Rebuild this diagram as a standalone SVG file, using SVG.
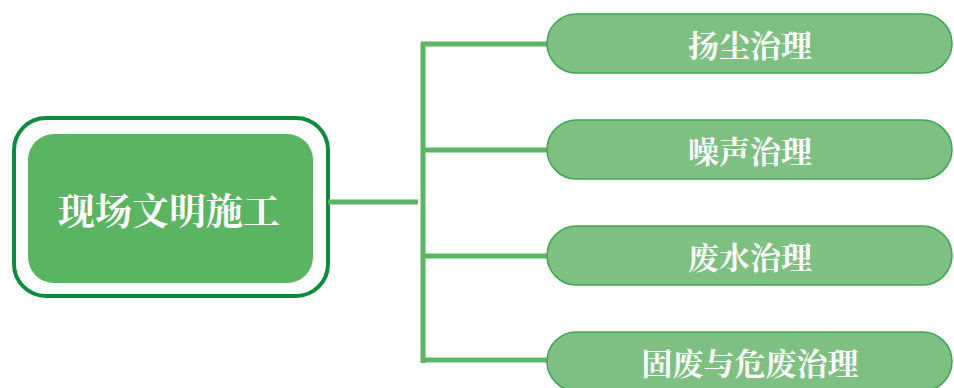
<svg xmlns="http://www.w3.org/2000/svg" width="954" height="388" viewBox="0 0 954 388">
<style>
.conn{stroke:#5cb562;stroke-width:5;fill:none}
.leaf{fill:#7dc081;stroke:#3ea653;stroke-width:1.5}
.t{font-family:"Noto Serif CJK SC","Noto Sans CJK SC",serif;font-weight:bold;fill:#ffffff;text-anchor:middle;dominant-baseline:central}
</style>
<rect width="954" height="388" fill="#ffffff"/>
<g id="root">
<rect x="14" y="118" width="314" height="178" rx="32" fill="#ffffff" stroke="#0e8c3e" stroke-width="4"/>
<rect x="28" y="134" width="285" height="149" rx="26" fill="#5ab462"/>
<text class="t" x="169" y="209" font-size="37">现场文明施工</text>
</g>
<g id="connectors">
<line class="conn" x1="328" y1="202" x2="418" y2="202"/>
<line class="conn" x1="423" y1="42" x2="423" y2="363"/>
<line class="conn" x1="421" y1="44" x2="550" y2="44"/>
<line class="conn" x1="421" y1="150" x2="550" y2="150"/>
<line class="conn" x1="421" y1="256" x2="550" y2="256"/>
<line class="conn" x1="421" y1="360" x2="550" y2="360"/>
</g>
<g id="n1">
<rect class="leaf" x="547" y="14" width="405" height="59" rx="29.5"/>
<text class="t" x="750" y="43" font-size="31">扬尘治理</text>
</g>
<g id="n2">
<rect class="leaf" x="547" y="120" width="405" height="59" rx="29.5"/>
<text class="t" x="750" y="149" font-size="31">噪声治理</text>
</g>
<g id="n3">
<rect class="leaf" x="547" y="226" width="405" height="59" rx="29.5"/>
<text class="t" x="750" y="255" font-size="31">废水治理</text>
</g>
<g id="n4">
<rect class="leaf" x="547" y="332" width="405" height="59" rx="29.5"/>
<text class="t" x="750" y="361" font-size="31">固废与危废治理</text>
</g>
</svg>
